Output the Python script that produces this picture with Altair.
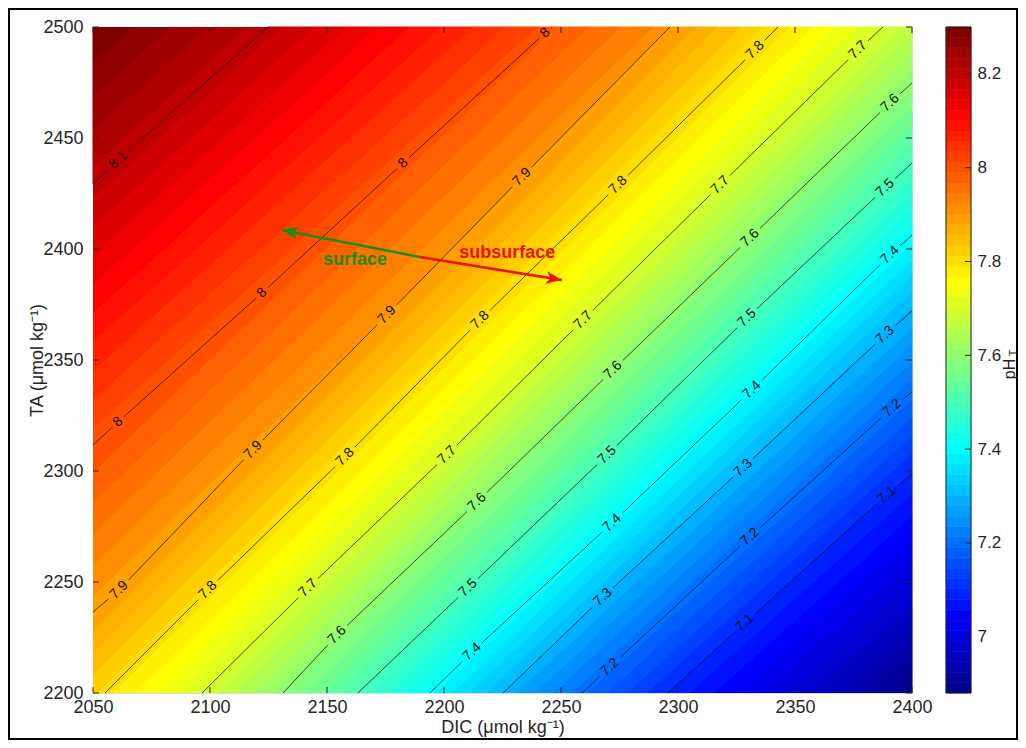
import math
import numpy as np
import pandas as pd
import altair as alt

# ---------------- values ----------------
LEVELS = [8.1, 8.0, 7.9, 7.8, 7.7, 7.6, 7.5, 7.4, 7.3, 7.2, 7.1]
# pH whose colour is seen along each contour line (the 8.1 line sits in darker red)
LINE_COLOUR_PH = [8.2, 8.0, 7.9, 7.8, 7.7, 7.6, 7.5, 7.4, 7.3, 7.2, 7.1]
PH_TOP_LEFT = 8.30
PH_BOTTOM_RIGHT = 6.88
CLIM = [6.88, 8.30]

# contour lines: DIC / TA points (labels sit on the listed indices)
DIC_81 = [2050.0, 2060.7, 2124.8]
TA_81 = [2429.3, 2440.1, 2500.0]
LAB_81 = [1]
DIC_80 = [2050.0, 2060.7, 2122.2, 2182.5, 2243.2, 2246.2]
TA_80 = [2311.7, 2322.1, 2380.2, 2438.7, 2497.3, 2500.0]
LAB_80 = [1, 2, 3, 4]
DIC_79 = [2050.0, 2061.1, 2118.4, 2175.6, 2233.3, 2290.2, 2296.6]
TA_79 = [2236.5, 2246.4, 2309.5, 2370.3, 2432.4, 2493.2, 2500.0]
LAB_79 = [1, 2, 3, 4]
DIC_78 = [2055.1, 2099.1, 2157.7, 2215.4, 2274.4, 2332.9, 2342.7]
TA_78 = [2200.0, 2246.4, 2306.3, 2368.0, 2428.8, 2489.6, 2500.0]
LAB_78 = [1, 2, 3, 4, 5]
DIC_77 = [2096.6, 2141.9, 2201.3, 2259.4, 2318.0, 2376.9, 2387.6]
TA_77 = [2200.0, 2247.3, 2307.2, 2368.0, 2428.8, 2489.6, 2500.0]
LAB_77 = [1, 2, 3, 4, 5]
DIC_76 = [2131.2, 2154.3, 2214.1, 2272.2, 2330.8, 2390.6, 2400.0]
TA_76 = [2200.0, 2226.1, 2286.0, 2345.5, 2405.0, 2465.8, 2474.8]
LAB_76 = [1, 2, 3, 4, 5]
DIC_75 = [2163.2, 2210.3, 2269.7, 2329.5, 2388.5, 2400.0]
TA_75 = [2200.0, 2247.3, 2307.2, 2368.9, 2427.5, 2438.7]
LAB_75 = [1, 2, 3, 4]
DIC_74 = [2194.0, 2212.0, 2271.8, 2331.6, 2390.6, 2400.0]
TA_74 = [2200.0, 2218.5, 2276.6, 2336.5, 2397.3, 2406.3]
LAB_74 = [1, 2, 3, 4]
DIC_73 = [2225.2, 2267.9, 2327.8, 2388.5, 2400.0]
TA_73 = [2200.0, 2243.2, 2301.4, 2361.3, 2372.1]
LAB_73 = [1, 2, 3]
DIC_72 = [2259.0, 2270.9, 2330.8, 2391.5, 2400.0]
TA_72 = [2200.0, 2211.7, 2270.3, 2328.4, 2335.6]
LAB_72 = [1, 2, 3]
DIC_71 = [2295.7, 2328.6, 2389.3, 2400.0]
TA_71 = [2200.0, 2231.5, 2289.2, 2298.2]
LAB_71 = [1, 2]

DIC_TICKS = [2050, 2100, 2150, 2200, 2250, 2300, 2350, 2400]
TA_TICKS = [2200, 2250, 2300, 2350, 2400, 2450, 2500]
CBAR_TICKS = [7.0, 7.2, 7.4, 7.6, 7.8, 8.0, 8.2]

ARROW_FROM = [2189.7, 2396.4]
SURFACE_TO = [2130.8, 2408.6]
SUBSURFACE_TO = [2250.4, 2386.0]
SURFACE_TEXT = [2162.0, 2395.0]
SUBSURFACE_TEXT = [2227.0, 2398.2]

# ---------------- layout ----------------
W, H = 819, 666
X0, X1 = 2050.0, 2400.0
Y0, Y1 = 2200.0, 2500.0
PX = W / (X1 - X0)
PY = H / (Y1 - Y0)
FONT = "Liberation Sans"
INK = "#262626"
GREEN = "#1a8c1a"
RED = "#ee1111"
VMIN, VMAX = CLIM


def jet64():
    out = []
    for r in range(1, 65):
        R = 0 if r <= 24 else ((r - 24) / 16 if r <= 40 else (1 if r <= 56 else 1 - (r - 56) / 16))
        G = 0 if r <= 8 else ((r - 8) / 16 if r <= 24 else (1 if r <= 40 else (1 - (r - 40) / 16 if r <= 55 else 0)))
        B = (r + 8) / 16 if r <= 8 else (1 if r <= 24 else (1 - (r - 24) / 16 if r <= 39 else 0))
        out.append("#%02x%02x%02x" % tuple(int(round(c * 255)) for c in (R, G, B)))
    return out


JET = jet64()
DSTEP = (VMAX - VMIN) / 64


def bin_of(p):
    return min(63, max(0, int(math.floor((p - VMIN) / DSTEP))))


def gradient_stops(a, b):
    stops = [(0.0, JET[bin_of(a)])]
    inner = []
    for k in range(1, 64):
        e = VMIN + k * DSTEP
        if min(a, b) < e < max(a, b):
            t = (e - a) / (b - a)
            if a > b:
                inner.append((t, JET[k], JET[k - 1]))
            else:
                inner.append((t, JET[k - 1], JET[k]))
    inner.sort()
    for t, c1, c2 in inner:
        stops += [(t, c1), (t, c2)]
    stops.append((1.0, JET[bin_of(b)]))
    return stops


def perim_s(d, t):
    e = 1e-6
    if abs(t - Y1) < e:
        return (d - X0) / (X1 - X0)
    if abs(d - X1) < e:
        return 1 + (Y1 - t) / (Y1 - Y0)
    if abs(t - Y0) < e:
        return 2 + (X1 - d) / (X1 - X0)
    return 3 + (t - Y0) / (Y1 - Y0)


CORNERS = [(X0, Y1), (X1, Y1), (X1, Y0), (X0, Y0)]


def corners_between(sa, sb):
    if sb < sa:
        sb += 4
    return [CORNERS[k % 4] for k in range(1, 9) if sa < k < sb]


def make_gradient(poly, a_pts, a_val, b_pts, b_val, dir_lines):
    ds = [p[0] for p in poly]
    ts = [p[1] for p in poly]
    dmin, dmax, tmin, tmax = min(ds), max(ds), min(ts), max(ts)

    def uv(p):
        return ((p[0] - dmin) / (dmax - dmin), (tmax - p[1]) / (tmax - tmin))

    vx = vy = 0.0
    for ln in dir_lines:
        u0, v0 = uv(ln[0])
        u1, v1 = uv(ln[-1])
        n = math.hypot(u1 - u0, v1 - v0)
        vx += (u1 - u0) / n
        vy += (v1 - v0) / n
    nx, ny = -vy, vx
    nn = math.hypot(nx, ny)
    nx, ny = nx / nn, ny / nn
    h = float(np.mean([uv(p)[0] * nx + uv(p)[1] * ny for p in a_pts]))
    l = float(np.mean([uv(p)[0] * nx + uv(p)[1] * ny for p in b_pts]))
    stops = [alt.GradientStop(offset=float(min(1.0, max(0.0, o))), color=c) for o, c in gradient_stops(a_val, b_val)]
    return alt.LinearGradient(gradient="linear", stops=stops,
                              x1=h * nx, y1=h * ny, x2=l * nx, y2=l * ny)


LINES = [
    (8.1, list(zip(DIC_81, TA_81)), LAB_81),
    (8.0, list(zip(DIC_80, TA_80)), LAB_80),
    (7.9, list(zip(DIC_79, TA_79)), LAB_79),
    (7.8, list(zip(DIC_78, TA_78)), LAB_78),
    (7.7, list(zip(DIC_77, TA_77)), LAB_77),
    (7.6, list(zip(DIC_76, TA_76)), LAB_76),
    (7.5, list(zip(DIC_75, TA_75)), LAB_75),
    (7.4, list(zip(DIC_74, TA_74)), LAB_74),
    (7.3, list(zip(DIC_73, TA_73)), LAB_73),
    (7.2, list(zip(DIC_72, TA_72)), LAB_72),
    (7.1, list(zip(DIC_71, TA_71)), LAB_71),
]
COLVAL = dict(zip(LEVELS, LINE_COLOUR_PH))

XS = alt.Scale(domain=[X0, X1], nice=False, zero=False)
YS = alt.Scale(domain=[Y0, Y1], nice=False, zero=False)
AX_COMMON = dict(ticks=False, tickSize=0, domain=False, grid=False, labelFontSize=18,
                 titleFontSize=18, labelFont=FONT, titleFont=FONT, labelColor=INK,
                 titleColor=INK, titleFontWeight="normal", labelFlush=False,
                 labelOverlap=False, format="d")
XAX = alt.Axis(title="DIC (μmol kg⁻¹)", values=DIC_TICKS, labelPadding=5,
               titleX=W / 2, titleY=34, titleBaseline="middle", **AX_COMMON)
YAX = alt.Axis(title="TA (μmol kg⁻¹)", values=TA_TICKS, labelPadding=10,
               titleX=-56, titleY=H / 2, titleBaseline="middle", titleAngle=270, **AX_COMMON)
X = alt.X("d:Q", scale=XS, axis=XAX)
Y = alt.Y("t:Q", scale=YS, axis=YAX)

layers = []


def poly_layer(poly, grad):
    df = pd.DataFrame({"d": [p[0] for p in poly], "t": [p[1] for p in poly],
                       "i": list(range(len(poly)))})
    return alt.Chart(df).mark_line(fill=grad, stroke=grad, strokeWidth=1).encode(
        x=X, y=Y, order="i:Q")


# region above the highest contour
lvl, pts, _ = LINES[0]
poly = pts[::-1] + corners_between(perim_s(*pts[0]), perim_s(*pts[-1]))
layers.append(poly_layer(poly, make_gradient(poly, pts, COLVAL[lvl], [CORNERS[0]], PH_TOP_LEFT, [pts])))
# bands between contours
for (lh, ph, _), (ll, pl, _) in zip(LINES[:-1], LINES[1:]):
    poly = (ph + corners_between(perim_s(*ph[-1]), perim_s(*pl[-1])) + pl[::-1]
            + corners_between(perim_s(*pl[0]), perim_s(*ph[0])))
    layers.append(poly_layer(poly, make_gradient(poly, ph, COLVAL[lh], pl, COLVAL[ll], [ph, pl])))
# region below the lowest contour
lvl, pts, _ = LINES[-1]
poly = pts + corners_between(perim_s(*pts[-1]), perim_s(*pts[0]))
layers.append(poly_layer(poly, make_gradient(poly, pts, COLVAL[lvl], [CORNERS[2]], PH_BOTTOM_RIGHT, [pts])))

# contour lines broken at their labels
CHAR_W = {".": 0.278}
LABEL_SIZE = 14
seg_rows, lab_rows = [], []
seg_id = 0


def to_px(p):
    return ((p[0] - X0) * PX, (Y1 - p[1]) * PY)


def from_px(q):
    return (X0 + q[0] / PX, Y1 - q[1] / PY)


def flush(piece):
    global seg_id
    if len(piece) >= 2:
        for j, q in enumerate(piece):
            d, t = from_px(q)
            seg_rows.append({"d": d, "t": t, "i": j, "seg": seg_id})
        seg_id += 1


for lvl, pts, labs in LINES:
    txt = f"{lvl:g}"
    gap = sum(CHAR_W.get(ch, 0.556) for ch in txt) * LABEL_SIZE / 2 + 4
    P = [to_px(p) for p in pts]
    piece = [P[0]]
    for i in range(1, len(P)):
        if i in labs:
            ax, ay = P[i - 1]
            bx, by = P[i]
            L = math.hypot(bx - ax, by - ay)
            if L > gap:
                piece.append((bx - (bx - ax) / L * gap, by - (by - ay) / L * gap))
            flush(piece)
            piece = []
            if i + 1 < len(P):
                cx, cy = P[i + 1]
                L2 = math.hypot(cx - bx, cy - by)
                if L2 > gap:
                    piece = [(bx + (cx - bx) / L2 * gap, by + (cy - by) / L2 * gap)]
            prev = P[i - 1]
            nxt = P[i + 1] if i + 1 < len(P) else P[i]
            ang = math.degrees(math.atan2(nxt[1] - prev[1], nxt[0] - prev[0])) % 360
            lab_rows.append({"d": pts[i][0], "t": pts[i][1], "txt": txt, "ang": ang})
        else:
            if piece:
                piece.append(P[i])
            else:
                piece = [P[i]]
    flush(piece)

layers.append(alt.Chart(pd.DataFrame(seg_rows)).mark_line(color="#111111", strokeWidth=0.75).encode(
    x=X, y=Y, detail="seg:N", order="i:Q"))
layers.append(alt.Chart(pd.DataFrame(lab_rows)).mark_text(
    font=FONT, fontSize=LABEL_SIZE, color="#111111", align="center", baseline="middle").encode(
    x=X, y=Y, text="txt:N", angle=alt.Angle("ang:Q", scale=None)))

# inward tick marks on all four sides
xt = pd.DataFrame({"d": DIC_TICKS})
yt = pd.DataFrame({"t": TA_TICKS})
layers.append(alt.Chart(xt).mark_rule(color=INK, strokeWidth=1).encode(x=X, y=alt.value(H), y2=alt.value(H - 6)))
layers.append(alt.Chart(xt).mark_rule(color=INK, strokeWidth=1).encode(x=X, y=alt.value(0), y2=alt.value(6)))
layers.append(alt.Chart(yt).mark_rule(color=INK, strokeWidth=1).encode(y=Y, x=alt.value(0), x2=alt.value(6)))
layers.append(alt.Chart(yt).mark_rule(color=INK, strokeWidth=1).encode(y=Y, x=alt.value(W), x2=alt.value(W - 6)))

# arrows
arr = pd.DataFrame({
    "name": ["surface", "surface", "subsurface", "subsurface"],
    "d": [ARROW_FROM[0], SURFACE_TO[0], ARROW_FROM[0], SUBSURFACE_TO[0]],
    "t": [ARROW_FROM[1], SURFACE_TO[1], ARROW_FROM[1], SUBSURFACE_TO[1]],
    "i": [0, 1, 0, 1],
    "col": [GREEN, GREEN, RED, RED],
})
layers.append(alt.Chart(arr).mark_line(strokeWidth=2.6).encode(
    x=X, y=Y, detail="name:N", order="i:Q", color=alt.Color("col:N", scale=None)))


def head_angle(a, b):
    dx = (b[0] - a[0]) * PX
    dy = -(b[1] - a[1]) * PY
    return math.degrees(math.atan2(dy, dx)) % 360


heads = pd.DataFrame({
    "d": [SURFACE_TO[0], SUBSURFACE_TO[0]],
    "t": [SURFACE_TO[1], SUBSURFACE_TO[1]],
    "ang": [head_angle(ARROW_FROM, SURFACE_TO), head_angle(ARROW_FROM, SUBSURFACE_TO)],
    "col": [GREEN, RED],
})
HEAD = "M0,0L-1,-0.4L-0.72,0L-1,0.4Z"
layers.append(alt.Chart(heads).mark_point(shape=HEAD, filled=True, size=1024, opacity=1, strokeWidth=0).encode(
    x=X, y=Y, angle=alt.Angle("ang:Q", scale=None), color=alt.Color("col:N", scale=None)))
txt = pd.DataFrame({
    "d": [SURFACE_TEXT[0], SUBSURFACE_TEXT[0]],
    "t": [SURFACE_TEXT[1], SUBSURFACE_TEXT[1]],
    "txt": ["surface", "subsurface"],
    "col": [GREEN, RED],
})
layers.append(alt.Chart(txt).mark_text(font=FONT, fontSize=18, fontWeight="bold", align="center", baseline="middle").encode(
    x=X, y=Y, text="txt:N", color=alt.Color("col:N", scale=None)))

# figure frame
one = pd.DataFrame({"k": [0]})
layers.append(alt.Chart(one).mark_rect(fillOpacity=0, stroke="black", strokeWidth=2).encode(
    x=alt.value(-84), x2=alt.value(W + 105), y=alt.value(-18), y2=alt.value(H + 46)))

main = alt.layer(*layers)

# ---------------- colour bar ----------------
edges = np.linspace(VMIN, VMAX, 65)
cbdf = pd.DataFrame({"p": edges[:-1], "p2": edges[1:], "col": JET})
CS = alt.Scale(domain=CLIM, nice=False, zero=False)
CBX0, CBX1 = 853, 878
CAX = alt.Axis(orient="right", offset=CBX1 - W, values=CBAR_TICKS, format="~g", ticks=False, tickSize=0,
               domain=False, grid=False, labelPadding=6, title=None, labelFontSize=17,
               labelFont=FONT, labelColor=INK, labelFlush=False, labelOverlap=False)
CY = alt.Y("p:Q", scale=CS, axis=CAX)
cb_layers = [
    alt.Chart(cbdf).mark_rect(strokeWidth=0.6).encode(
        x=alt.value(CBX0), x2=alt.value(CBX1), y=CY, y2="p2:Q",
        color=alt.Color("col:N", scale=None), stroke=alt.Stroke("col:N", scale=None)),
    alt.Chart(pd.DataFrame({"p": [VMIN], "p2": [VMAX]})).mark_rect(fillOpacity=0, stroke=INK, strokeWidth=1).encode(
        x=alt.value(CBX0), x2=alt.value(CBX1), y=CY, y2="p2:Q"),
    alt.Chart(pd.DataFrame({"p": CBAR_TICKS})).mark_rule(color=INK, strokeWidth=1).encode(
        y=CY, x=alt.value(CBX1 - 6), x2=alt.value(CBX1)),
    alt.Chart(one).mark_text(font=FONT, fontSize=16, color=INK, angle=270, align="center", baseline="middle").encode(
        x=alt.value(917), y=alt.value(342), text=alt.value("pH")),
    alt.Chart(one).mark_text(font=FONT, fontSize=11, color=INK, angle=270, align="center", baseline="middle").encode(
        x=alt.value(921), y=alt.value(326), text=alt.value("T")),
]
cbar = alt.layer(*cb_layers)

chart = alt.layer(main, cbar).resolve_scale(y="independent").properties(
    width=W, height=H,
    padding={"left": 85, "top": 19, "right": 106, "bottom": 47},
    autosize=alt.AutoSizeParams(type="none"),
).configure_view(stroke=INK, strokeWidth=1).configure(font=FONT)

chart.save("out.html", embed_options={"renderer": "svg", "actions": False})
